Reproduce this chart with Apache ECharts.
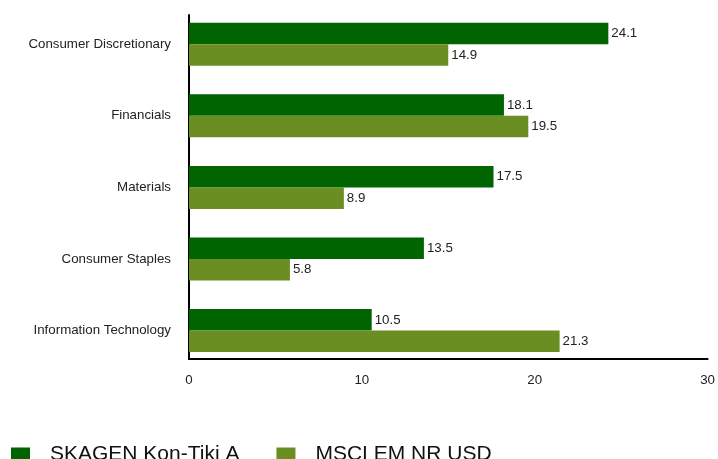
<!DOCTYPE html>
<html>
<head>
<meta charset="utf-8">
<script src="https://cdn.jsdelivr.net/npm/echarts@6/dist/echarts.min.js"></script>
<style>html,body{margin:0;padding:0;background:#fff}#c{width:718px;height:459px}</style>
</head>
<body>
<div id="c"></div>
<script>
var categories = ['Consumer Discretionary', 'Financials', 'Materials', 'Consumer Staples', 'Information Technology'];
var seriesNames = ['SKAGEN Kon-Tiki A', 'MSCI EM NR USD'];
var skagen = [24.1, 18.1, 17.5, 13.5, 10.5];
var msci = [14.9, 19.5, 8.9, 5.8, 21.3];
var xTicks = [0, 10, 20, 30];

var font = 'Liberation Sans, Arial, sans-serif';
var chart = echarts.init(document.getElementById('c'));
chart.setOption({
  animation: false,
  textStyle: { fontFamily: font },
  legend: {
    data: seriesNames,
    left: 11,
    top: 444,
    padding: 0,
    itemWidth: 19,
    itemHeight: 14,
    itemGap: 37,
    icon: 'rect',
    textStyle: { fontSize: 21, color: '#111', fontFamily: font, padding: [0, 0, 0, 15] }
  },
  grid: [
    { left: 189, right: 7, top: 8.4, height: 358, containLabel: false },
    { left: 189, right: 8, top: 15, height: 344, containLabel: false }
  ],
  xAxis: [
    { gridIndex: 0, type: 'value', min: xTicks[0], max: xTicks[xTicks.length - 1], interval: 10, show: false },
    { gridIndex: 1, type: 'value', min: xTicks[0], max: xTicks[xTicks.length - 1], interval: 10,
      axisLine: { show: true, lineStyle: { color: '#000', width: 2 } },
      axisTick: { show: false },
      splitLine: { show: false },
      axisLabel: { margin: 15, fontSize: 13.3, color: '#222', fontFamily: font } }
  ],
  yAxis: [
    { gridIndex: 0, type: 'category', data: categories, inverse: true,
      axisLine: { show: false }, axisTick: { show: false },
      axisLabel: { margin: 18, fontSize: 13.3, color: '#222', fontFamily: font } },
    { gridIndex: 1, type: 'value', min: 0, max: 1,
      axisLine: { show: true, lineStyle: { color: '#000', width: 2 } },
      axisTick: { show: false }, axisLabel: { show: false }, splitLine: { show: false } }
  ],
  series: [
    { name: seriesNames[0], type: 'bar', data: skagen, xAxisIndex: 0, yAxisIndex: 0,
      barCategoryGap: '40%', barGap: '0%',
      itemStyle: { color: '#006400' },
      label: { show: true, position: 'right', distance: 3, fontSize: 13.3, color: '#222', fontFamily: font } },
    { name: seriesNames[1], type: 'bar', data: msci, xAxisIndex: 0, yAxisIndex: 0,
      barCategoryGap: '40%', barGap: '0%',
      itemStyle: { color: '#6B8E23' },
      label: { show: true, position: 'right', distance: 3, fontSize: 13.3, color: '#222', fontFamily: font } }
  ]
});
</script>
</body>
</html>
